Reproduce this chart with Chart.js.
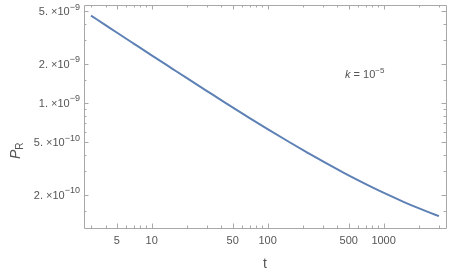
<!DOCTYPE html>
<html>
<head>
<meta charset="utf-8">
<script src="https://cdn.jsdelivr.net/npm/chart.js@4/dist/chart.umd.min.js"></script>
<style>
  html, body { margin: 0; padding: 0; background: #fff; }
  #wrap { width: 452px; height: 273px; position: relative; }
</style>
</head>
<body>
<div id="wrap"><canvas id="c" width="452" height="273"></canvas></div>
<script>
// ---- data ----
const tValues = [3, 4, 5, 7, 10, 15, 20, 30, 42.6, 70, 100, 156, 220, 300, 450, 600, 800, 1040, 1500, 2000, 2500, 3000];
const pValues = [4.65e-9, 3.934e-9, 3.455e-9, 2.843e-9, 2.313e-9, 1.832e-9, 1.553e-9, 1.233e-9, 1.011e-9, 7.674e-10, 6.318e-10, 4.99e-10, 4.183e-10, 3.582e-10, 2.944e-10, 2.578e-10, 2.268e-10, 2.029e-10, 1.752e-10, 1.573e-10, 1.454e-10, 1.367e-10];

const xMajorTicks = [5, 10, 50, 100, 500, 1000];
const xTickLabels = ['5', '10', '50', '100', '500', '1000'];
const xMinorTicks = [3, 4, 6, 7, 8, 9, 20, 30, 40, 60, 70, 80, 90, 200, 300, 400, 600, 700, 800, 900, 2000, 3000];

const yMajorTicks = [2e-10, 5e-10, 1e-9, 2e-9, 5e-9];
const yTickMantissas = ['2. ×10', '5. ×10', '1. ×10', '2. ×10', '5. ×10'];
const yTickExponents = ['−10', '−10', '−9', '−9', '−9'];
const yMinorTicks = [1.5e-10, 3e-10, 4e-10, 6e-10, 7e-10, 8e-10, 9e-10, 1.5e-9, 3e-9, 4e-9];

const xMin = 2.61, xMax = 3450;
const yMin = 1.11e-10, yMax = 5.6e-9;

const frameColor = '#a8a8a8';
const textColor = '#555555';
const FONT = '"Liberation Sans", Arial, sans-serif';

const framePlugin = {
  id: 'frame',
  afterDraw(chart) {
    const ctx = chart.ctx;
    const a = chart.chartArea;
    const xs = chart.scales.x, ys = chart.scales.y;
    ctx.save();
    ctx.strokeStyle = frameColor;
    ctx.lineWidth = 1;
    ctx.beginPath();
    ctx.rect(Math.round(a.left) + 0.5, Math.round(a.top) + 0.5, Math.round(a.right - a.left), Math.round(a.bottom - a.top));
    ctx.stroke();
    function xt(v, len) {
      const px = Math.round(xs.getPixelForValue(v)) + 0.5;
      ctx.beginPath();
      ctx.moveTo(px, a.bottom); ctx.lineTo(px, a.bottom - len);
      ctx.moveTo(px, a.top); ctx.lineTo(px, a.top + len);
      ctx.stroke();
    }
    function yt(v, len) {
      const py = Math.round(ys.getPixelForValue(v)) + 0.5;
      ctx.beginPath();
      ctx.moveTo(a.left, py); ctx.lineTo(a.left + len, py);
      ctx.moveTo(a.right, py); ctx.lineTo(a.right - len, py);
      ctx.stroke();
    }
    xMajorTicks.forEach(v => xt(v, 4.5));
    xMinorTicks.forEach(v => xt(v, 2.5));
    yMajorTicks.forEach(v => yt(v, 4.5));
    yMinorTicks.forEach(v => yt(v, 2.5));

    ctx.fillStyle = textColor;
    ctx.textBaseline = 'alphabetic';

    // y tick labels with superscript exponents
    yMajorTicks.forEach((v, i) => {
      const py = ys.getPixelForValue(v);
      ctx.font = '9px ' + FONT;
      const ew = ctx.measureText(yTickExponents[i]).width;
      ctx.font = '11px ' + FONT;
      const mw = ctx.measureText(yTickMantissas[i]).width;
      const right = a.left - 4;
      const x0 = right - ew - mw;
      ctx.textAlign = 'left';
      ctx.fillText(yTickMantissas[i], x0, py + 4);
      ctx.font = '9px ' + FONT;
      ctx.fillText(yTickExponents[i], x0 + mw, py - 1.5);
    });

    // axis titles
    ctx.font = '14px ' + FONT;
    ctx.textAlign = 'center';
    ctx.fillText('t', (a.left + a.right) / 2, 268);

    ctx.save();
    ctx.translate(20, 150);
    ctx.rotate(-Math.PI / 2);
    ctx.textAlign = 'left';
    ctx.font = 'italic 14px ' + FONT;
    ctx.fillText('P', -9, 0);
    const pw = ctx.measureText('P').width;
    ctx.font = '10px ' + FONT;
    ctx.fillText('R', -9 + pw, 3);
    ctx.restore();

    // annotation
    ctx.textAlign = 'left';
    ctx.font = 'italic 11px ' + FONT;
    let x0 = 345, y0 = 78;
    ctx.fillText('k', x0, y0);
    x0 += ctx.measureText('k').width;
    ctx.font = '11px ' + FONT;
    ctx.fillText(' = 10', x0, y0);
    x0 += ctx.measureText(' = 10').width;
    ctx.font = '8px ' + FONT;
    ctx.fillText('−5', x0, y0 - 5);
    ctx.restore();
  }
};

new Chart(document.getElementById('c'), {
  type: 'line',
  data: {
    datasets: [{
      data: tValues.map((t, i) => ({ x: t, y: pValues[i] })),
      borderColor: '#5e81b5',
      borderWidth: 2,
      pointRadius: 0,
      fill: false,
      cubicInterpolationMode: 'monotone'
    }]
  },
  options: {
    responsive: false,
    animation: false,
    layout: { padding: { left: 0, right: 6, top: 5, bottom: 0 } },
    plugins: { legend: { display: false }, tooltip: { enabled: false } },
    scales: {
      x: {
        type: 'logarithmic',
        min: xMin, max: xMax,
        grid: { display: false, drawTicks: false },
        border: { display: false },
        afterBuildTicks(s) { s.ticks = xMajorTicks.map(v => ({ value: v })); },
        afterFit(s) { s.height = 45; },
        ticks: {
          autoSkip: false, maxRotation: 0, padding: 6,
          color: textColor,
          font: { size: 11, family: FONT },
          callback(v) { const i = xMajorTicks.indexOf(v); return i >= 0 ? xTickLabels[i] : ''; }
        }
      },
      y: {
        type: 'logarithmic',
        min: yMin, max: yMax,
        grid: { display: false, drawTicks: false },
        border: { display: false },
        afterBuildTicks(s) { s.ticks = yMajorTicks.map(v => ({ value: v })); },
        afterFit(s) { s.width = 84; },
        ticks: { display: false }
      }
    }
  },
  plugins: [framePlugin]
});
</script>
</body>
</html>
